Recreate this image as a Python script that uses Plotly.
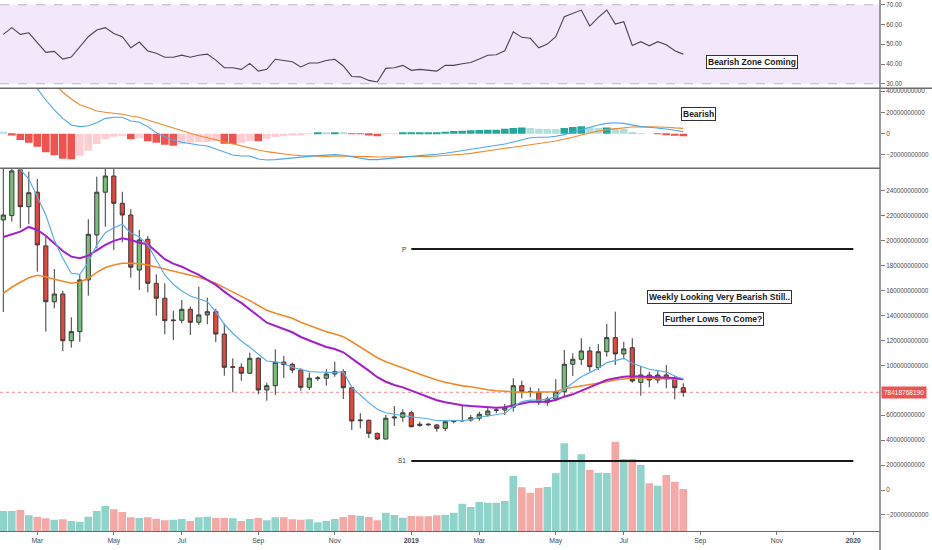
import pandas as pd
import plotly.graph_objects as go

B = 1e9

# ---------------- data (values in billions unless noted) ----------------
start_week = "2018-02-05"
n_weeks = 81
dates = pd.date_range(start_week, periods=n_weeks, freq="7D")

open_b = [216.7, 220.2, 256.9, 227.4, 239.0, 195.9, 151.1, 157.3, 119.8, 127.1,
          168.6, 204.7, 239.0, 252.0, 230.1, 220.7, 176.6, 201.2, 165.9, 153.9,
          135.9, 136.2, 145.0, 134.6, 140.5, 143.1, 125.2, 98.5, 98.5, 93.7,
          105.7, 80.3, 83.7, 102.7, 100.9, 96.3, 82.4, 89.5, 89.7, 93.1,
          95.0, 82.1, 55.6, 56.0, 45.5, 40.9, 57.8, 58.4, 62.0, 52.8,
          52.9, 52.2, 49.5, 54.9, 55.5, 56.2, 57.6, 60.2, 63.9, 64.2,
          66.4, 83.7, 78.9, 78.4, 70.4, 73.0, 78.9, 100.9, 104.9, 111.6,
          98.2, 111.0, 122.3, 109.2, 114.2, 86.4, 92.3, 88.3, 92.3, 89.1,
          82.1]
high_b = [268.0, 265.0, 266.0, 255.5, 249.6, 203.3, 177.4, 160.0, 138.6, 172.6,
          217.3, 251.5, 260.0, 257.5, 239.4, 225.3, 208.7, 203.9, 173.1, 165.9,
          143.9, 152.5, 147.3, 163.2, 154.4, 145.3, 133.8, 105.7, 101.7, 110.2,
          106.5, 86.1, 112.9, 107.5, 102.2, 97.7, 94.2, 91.5, 96.9, 103.0,
          96.9, 82.9, 61.6, 56.4, 46.0, 60.2, 67.4, 64.8, 63.7, 54.8,
          53.5, 53.0, 56.2, 56.2, 67.4, 60.2, 62.9, 66.4, 65.6, 69.0,
          89.7, 87.7, 82.4, 81.6, 74.9, 88.9, 112.4, 109.7, 121.8, 115.0,
          117.2, 133.2, 143.1, 119.0, 121.8, 99.5, 95.0, 95.5, 100.3, 91.5,
          85.6]
low_b = [142.9, 215.4, 210.1, 213.3, 175.2, 127.1, 145.8, 111.6, 114.2, 119.0,
         156.0, 194.0, 211.3, 192.6, 198.8, 170.4, 160.5, 158.7, 139.9, 125.0,
         120.4, 133.8, 124.4, 132.4, 133.0, 118.6, 91.7, 78.4, 87.7, 93.1,
         76.8, 71.7, 76.3, 89.9, 93.7, 79.7, 80.3, 87.5, 83.7, 90.9,
         73.0, 48.2, 49.5, 41.5, 40.1, 40.7, 51.4, 54.8, 50.3, 50.8,
         51.5, 46.8, 47.4, 53.5, 54.8, 54.8, 55.6, 58.8, 61.6, 60.2,
         62.9, 73.6, 74.4, 68.2, 67.7, 72.2, 74.9, 91.5, 100.3, 95.0,
         96.3, 107.0, 100.3, 104.9, 86.1, 75.7, 82.4, 85.6, 81.6, 72.8,
         74.9]
close_b = [220.7, 256.1, 227.4, 238.6, 196.7, 151.1, 157.3, 119.8, 127.1, 168.6,
           205.2, 239.0, 252.0, 230.1, 220.7, 178.8, 200.7, 165.9, 153.9, 135.9,
           136.3, 145.0, 134.6, 140.5, 143.1, 125.2, 98.5, 98.8, 93.7, 105.7,
           80.3, 83.7, 102.5, 100.7, 96.3, 82.4, 89.7, 89.9, 93.1, 95.0,
           82.1, 55.4, 56.1, 45.5, 40.9, 57.6, 58.5, 62.0, 50.8, 52.0,
           52.4, 49.5, 54.8, 55.2, 55.7, 58.0, 60.8, 63.4, 64.2, 66.4,
           83.7, 78.9, 78.6, 70.4, 73.0, 78.9, 100.9, 104.9, 111.6, 99.0,
           111.0, 122.3, 109.2, 113.2, 87.5, 92.3, 88.3, 92.3, 89.1, 82.1,
           78.41876819]
volume_b = [8.0, 8.0, 8.4, 6.3, 5.7, 5.1, 4.5, 4.7, 4.0, 3.7,
            5.7, 8.0, 10.0, 8.7, 7.6, 5.5, 5.2, 5.5, 4.9, 4.3,
            4.5, 4.8, 4.0, 5.5, 5.7, 5.2, 5.2, 5.1, 4.0, 4.8,
            5.2, 4.3, 5.5, 5.5, 4.7, 4.5, 4.7, 3.5, 4.0, 4.8,
            5.6, 6.4, 6.1, 5.6, 4.3, 7.3, 6.4, 5.3, 6.0, 5.9,
            5.9, 6.3, 6.5, 7.3, 10.9, 9.6, 11.6, 11.3, 11.3, 12.0,
            22.0, 17.5, 15.3, 17.2, 17.6, 23.1, 35.1, 27.7, 30.7, 24.4,
            23.3, 23.2, 35.7, 28.8, 28.8, 26.4, 19.1, 18.1, 22.4, 19.7,
            16.8]
ma_fast_b = [None, 265.0, 256.9, 249.6, 235.4, 220.7, 200.7, 186.0, 173.9, 173.1,
             182.8, 196.7, 206.5, 210.5, 213.3, 206.1, 203.3, 196.7, 184.6, 172.6,
             165.1, 159.7, 155.7, 153.3, 151.1, 143.1, 133.0, 125.8, 119.6, 114.5,
             108.8, 103.5, 102.8, 101.5, 98.5, 96.5, 95.0, 94.7, 94.2, 94.2,
             95.0, 82.4, 76.3, 70.1, 64.8, 62.0, 60.8, 59.6, 58.8, 58.0,
             57.2, 55.6, 55.4, 55.4, 55.6, 56.7, 58.4, 59.4, 60.2, 61.6,
             66.9, 70.9, 72.2, 72.2, 73.0, 74.9, 80.8, 85.6, 90.9, 94.2,
             97.7, 102.2, 103.8, 105.7, 101.7, 99.5, 96.9, 95.8, 94.7, 91.5,
             89.1]
ma_mid_b = [203.0, 205.2, 207.3, 211.1, 208.7, 204.1, 198.0, 191.8, 187.3, 186.0,
            188.1, 192.4, 196.7, 199.9, 202.0, 200.7, 198.5, 197.2, 191.3, 185.2,
            181.7, 179.2, 175.8, 172.6, 168.6, 164.6, 159.2, 154.3, 150.2, 145.3,
            139.7, 134.3, 131.9, 129.2, 126.6, 122.8, 119.8, 117.4, 114.8, 113.2,
            110.5, 105.2, 100.6, 95.8, 90.5, 86.9, 84.3, 82.4, 79.7, 76.8,
            74.1, 72.0, 70.4, 69.0, 68.1, 67.4, 66.9, 66.4, 66.1, 66.4,
            68.0, 69.8, 70.9, 70.9, 70.9, 72.2, 74.9, 76.8, 79.7, 82.4,
            85.6, 88.3, 89.7, 90.9, 91.3, 91.0, 91.0, 91.0, 90.5, 89.9,
            88.9]
ma_slow_b = [157.9, 162.7, 166.7, 170.4, 172.3, 171.2, 169.1, 167.2, 165.9, 166.7,
             169.9, 174.7, 178.5, 180.6, 182.0, 182.0, 181.7, 180.6, 179.0, 177.2,
             175.2, 173.9, 172.6, 170.7, 168.6, 165.9, 162.4, 158.6, 155.4, 152.0,
             148.2, 144.2, 141.8, 139.9, 137.8, 134.6, 131.9, 129.8, 127.1, 125.2,
             123.1, 119.0, 114.5, 110.2, 106.2, 103.0, 100.3, 97.7, 95.5, 92.9,
             90.5, 88.3, 86.5, 84.8, 83.6, 82.9, 81.6, 80.5, 79.7, 79.2,
             78.7, 78.4, 78.4, 78.4, 78.4, 78.9, 81.3, 82.4, 83.5, 84.3,
             85.6, 86.9, 88.3, 89.3, 89.9, 89.9, 89.7, 89.7, 89.3, 89.1,
             88.9]
rsi = [55.0, 58.4, 55.0, 55.8, 50.8, 45.9, 46.4, 42.5, 43.5, 48.7,
       53.8, 57.2, 58.4, 55.5, 53.8, 48.2, 51.1, 46.6, 45.4, 43.4,
       43.4, 44.5, 43.4, 44.4, 45.0, 42.0, 38.1, 38.1, 37.3, 40.3,
       36.4, 37.3, 42.4, 41.8, 41.1, 38.5, 40.5, 40.5, 41.8, 42.4,
       39.0, 33.7, 33.5, 31.7, 30.9, 37.8, 38.1, 39.3, 36.8, 37.3,
       37.0, 36.4, 39.3, 39.3, 40.1, 40.8, 42.5, 44.4, 44.7, 46.7,
       56.3, 53.5, 53.0, 48.2, 50.1, 53.8, 63.9, 65.6, 67.3, 59.2,
       63.6, 67.3, 60.2, 61.4, 49.4, 51.3, 49.2, 51.3, 49.7, 46.7,
       45.0]
macd_line_b = [None, None, None, 49.0, 42.0, 31.6, 22.3, 14.4, 8.2, 6.6,
               7.5, 10.3, 14.4, 15.4, 15.4, 11.9, 10.7, 6.6, 0.9, -2.8,
               -5.9, -8.1, -9.7, -10.6, -11.5, -14.4, -17.2, -20.0, -20.9, -20.9,
               -23.8, -24.7, -24.4, -23.5, -22.5, -22.2, -21.3, -20.6, -20.3, -19.7,
               -20.3, -21.9, -23.1, -24.4, -24.4, -23.8, -22.8, -22.2, -21.3, -20.6,
               -20.3, -19.4, -18.4, -17.2, -16.0, -14.4, -13.4, -12.2, -11.3, -9.7,
               -7.8, -5.6, -3.8, -3.4, -3.4, -2.5, -0.9, 1.6, 3.8, 6.3,
               8.2, 9.7, 10.3, 9.7, 8.2, 6.6, 6.0, 5.4, 4.4, 3.2,
               1.9]
macd_signal_b = [None, None, None, None, None, None, 47.0, 38.9, 32.6, 27.2,
                 24.4, 21.3, 20.1, 19.2, 18.2, 16.6, 15.4, 12.9, 10.3, 7.5,
                 5.0, 2.5, 0.4, -1.9, -3.8, -5.9, -8.1, -10.0, -11.8, -13.7,
                 -15.3, -16.9, -18.1, -19.4, -20.0, -20.6, -20.9, -21.3, -21.3, -21.0,
                 -21.0, -21.0, -21.3, -21.6, -21.9, -21.9, -21.9, -21.9, -21.9, -21.6,
                 -21.3, -20.9, -20.6, -20.0, -19.4, -18.5, -17.2, -16.0, -15.0, -13.7,
                 -12.8, -11.5, -10.0, -9.1, -8.1, -6.9, -5.3, -3.4, -1.3, 0.9,
                 2.5, 3.8, 4.7, 5.6, 6.3, 6.6, 6.6, 6.3, 6.0, 5.4,
                 5.0]
macd_hist_b = [1.9, -1.6, -5.9, -8.5, -12.2, -17.5, -20.3, -23.5, -24.1, -20.7,
               -16.0, -9.7, -5.3, -2.8, -2.2, -5.3, -4.4, -7.2, -8.5, -10.3,
               -11.3, -9.7, -8.5, -8.1, -7.8, -7.2, -9.4, -9.7, -8.5, -6.6,
               -7.2, -4.7, -3.1, -2.2, -1.6, -1.3, -0.6, 0.8, 0.6, 1.3,
               0.6, -0.2, -0.6, -1.6, -2.5, -0.6, -0.1, 0.6, 0.7, 0.9,
               1.0, 1.3, 1.9, 2.5, 2.8, 3.3, 3.5, 3.6, 3.8, 4.7,
               5.3, 5.9, 5.3, 4.7, 4.5, 4.4, 5.3, 6.3, 6.9, 5.9,
               5.3, 5.9, 5.3, 4.7, 1.6, 0.3, 0.0, -0.6, -0.8, -1.9,
               -2.5]

pivot_names = ["P", "S1"]
pivot_levels_b = [193.4, 23.3]
pivot_start = "2019-01-07"
pivot_end = "2020-01-06"

last_price = 78418768190

# price-scale labels shown (the 80B label sits under the last-price tag)
price_ticks_b = [-20, 0, 20, 40, 60, 100, 120, 140, 160, 180, 200, 220, 240]

tick_dates = ["2018-03-05", "2018-05-07", "2018-07-02", "2018-09-03", "2018-11-05",
              "2019-01-07", "2019-03-04", "2019-05-06", "2019-07-01", "2019-09-02",
              "2019-11-04", "2020-01-06"]
tick_labels = ["Mar", "May", "Jul", "Sep", "Nov", "<b>2019</b>", "Mar", "May", "Jul",
               "Sep", "Nov", "<b>2020</b>"]

notes = [
    ("Bearish Zone Coming", "y3", 41.0, 0.8545),
    ("Bearish", "y2", 18.8 * B, 0.794),
    ("Weekly Looking Very Bearish Still..", "y4", 154.5 * B, 0.818),
    ("Further Lows To Come?", "y4", 137.3 * B, 0.811),
]

# ---------------- derived ----------------
def sc(vals):
    return [None if v is None else v * B for v in vals]

up = [c >= o for o, c in zip(open_b, close_b)]
vol_colors = ["#8fd4ca" if u else "#f5a8a6" for u in up]

hist_colors = []
prev = None
for h in macd_hist_b:
    p = h if prev is None else prev
    if h >= 0:
        hist_colors.append("#26a69a" if h > p else "#b2dfdb")
    else:
        hist_colors.append("#ef5350" if h < p else "#ffcdd2")
    prev = h

# panel geometry (fractions of plot height)
main_top = 0.6831
macd_top = 0.8337

FONT = "Liberation Sans"
AX_FONT = dict(family=FONT, size=6.3, color="#4a4a4a")

fig = go.Figure()

# volume (base axis y, hidden)
fig.add_trace(go.Bar(x=dates, y=sc(volume_b), marker_color=vol_colors,
                     marker_line_width=0, xaxis="x", yaxis="y"))

# pivot lines
for name, lvl in zip(pivot_names, pivot_levels_b):
    fig.add_trace(go.Scatter(x=[pivot_start, pivot_end], y=[lvl * B, lvl * B],
                             mode="lines", line=dict(color="#1a1a1a", width=2),
                             xaxis="x", yaxis="y4"))

# moving averages
fig.add_trace(go.Scatter(x=dates, y=sc(ma_slow_b), mode="lines",
                         line=dict(color="#f0892a", width=1.6), xaxis="x", yaxis="y4"))
fig.add_trace(go.Scatter(x=dates, y=sc(ma_mid_b), mode="lines",
                         line=dict(color="#a31fc9", width=2), xaxis="x", yaxis="y4"))
fig.add_trace(go.Scatter(x=dates, y=sc(ma_fast_b), mode="lines",
                         line=dict(color="#5aade6", width=1.2), xaxis="x", yaxis="y4"))

# candles
fig.add_trace(go.Candlestick(
    x=dates, open=sc(open_b), high=sc(high_b), low=sc(low_b), close=sc(close_b),
    increasing=dict(line=dict(color="#3a3a3a", width=1), fillcolor="#76c07a"),
    decreasing=dict(line=dict(color="#3a3a3a", width=1), fillcolor="#e8453c"),
    xaxis="x", yaxis="y4"))

# MACD
fig.add_trace(go.Bar(x=dates, y=sc(macd_hist_b), marker_color=hist_colors,
                     marker_line_width=0, xaxis="x", yaxis="y2"))
fig.add_trace(go.Scatter(x=dates, y=sc(macd_signal_b), mode="lines",
                         line=dict(color="#f0892a", width=1.1), xaxis="x", yaxis="y2"))
fig.add_trace(go.Scatter(x=dates, y=sc(macd_line_b), mode="lines",
                         line=dict(color="#4aa8ec", width=1.1), xaxis="x", yaxis="y2"))

# RSI
fig.add_trace(go.Scatter(x=dates, y=rsi, mode="lines",
                         line=dict(color="#4d4257", width=1.1), xaxis="x", yaxis="y3"))

shapes = [
    # RSI band
    dict(type="rect", xref="paper", x0=0, x1=1, yref="y3", y0=30, y1=70,
         fillcolor="#f2e7fb", line_width=0, layer="below"),
    dict(type="line", xref="paper", x0=0, x1=1, yref="y3", y0=70, y1=70,
         line=dict(color="#b9b9c4", width=1, dash="dash"), layer="below"),
    dict(type="line", xref="paper", x0=0, x1=1, yref="y3", y0=30, y1=30,
         line=dict(color="#b9b9c4", width=1, dash="dash"), layer="below"),
    # last price line
    dict(type="line", xref="paper", x0=0, x1=1, yref="y4", y0=last_price, y1=last_price,
         line=dict(color="#f08c8c", width=1, dash="dot"), layer="below"),
    # panel separators
    dict(type="line", xref="paper", x0=0, x1=932 / 880, yref="paper", y0=macd_top, y1=macd_top,
         line=dict(color="#6b6b6b", width=1.5)),
    dict(type="line", xref="paper", x0=0, x1=1, yref="paper", y0=main_top, y1=main_top,
         line=dict(color="#6b6b6b", width=1.5)),
    # right axis line through the time scale
    dict(type="line", xref="paper", x0=1, x1=1, yref="paper", y0=-0.04, y1=1,
         line=dict(color="#7a7a7a", width=1.5)),
]

annotations = []
for text, yref, yv, xv in notes:
    annotations.append(dict(text="<b>" + text + "</b>", xref="paper", x=xv, xanchor="center",
                            yref=yref, y=yv, yanchor="middle",
                            showarrow=False, font=dict(family=FONT, size=8.5, color="#1a1a1a"),
                            bgcolor="white", bordercolor="#333333", borderwidth=1, borderpad=1))
for name, lvl in zip(pivot_names, pivot_levels_b):
    annotations.append(dict(text=name, xref="x", x=pivot_start, yref="y4", y=lvl * B,
                            xanchor="right", xshift=-3, showarrow=False,
                            font=dict(family=FONT, size=6.3, color="#333333")))
annotations.append(dict(text=str(last_price), xref="paper", x=1, xanchor="left", xshift=1,
                        yref="y4", y=last_price, showarrow=False,
                        font=dict(family=FONT, size=6.5, color="white"),
                        bgcolor="#ef5350", borderpad=2))

yaxis_common = dict(side="right", anchor="x", showgrid=False, zeroline=False,
                    ticks="outside", ticklen=4, tickcolor="#7a7a7a", tickfont=AX_FONT,
                    showline=False, automargin=False)

fig.update_layout(
    width=932, height=550, autosize=False,
    margin=dict(l=0, r=52, t=0, b=19, pad=0),
    paper_bgcolor="white", plot_bgcolor="white",
    showlegend=False, bargap=0.1, boxgap=0.3,
    font=dict(family=FONT),
    xaxis=dict(type="date", range=["2018-02-02 06:46", "2020-01-28"],
               rangeslider=dict(visible=False), showgrid=False, zeroline=False,
               tickvals=tick_dates, ticktext=tick_labels,
               tickfont=dict(family=FONT, size=6.8, color="#4a4a4a"),
               ticks="outside", ticklen=3, tickcolor="#7a7a7a", automargin=False,
               showline=True, linecolor="#6b6b6b", linewidth=1, anchor="y"),
    yaxis=dict(domain=[0, main_top], range=[0, 145.1 * B], visible=False, fixedrange=True),
    yaxis4=dict(overlaying="y", range=[-32.9 * B, 258.2 * B], tickformat="d",
                tickvals=[v * B for v in price_ticks_b], **yaxis_common),
    yaxis2=dict(domain=[main_top, macd_top], range=[-32.5 * B, 42.6 * B],
                tickformat="d", tick0=0, dtick=20 * B, **yaxis_common),
    yaxis3=dict(domain=[macd_top, 1], range=[27.7, 72.4], tickvals=[30, 40, 50, 60, 70],
                tickformat=".2f", **yaxis_common),
    shapes=shapes,
    annotations=annotations,
)

fig.write_html("out.html",
               config={"displayModeBar": False},
               post_script="document.body.style.margin='0px';"
                           "document.body.style.overflow='hidden';")
